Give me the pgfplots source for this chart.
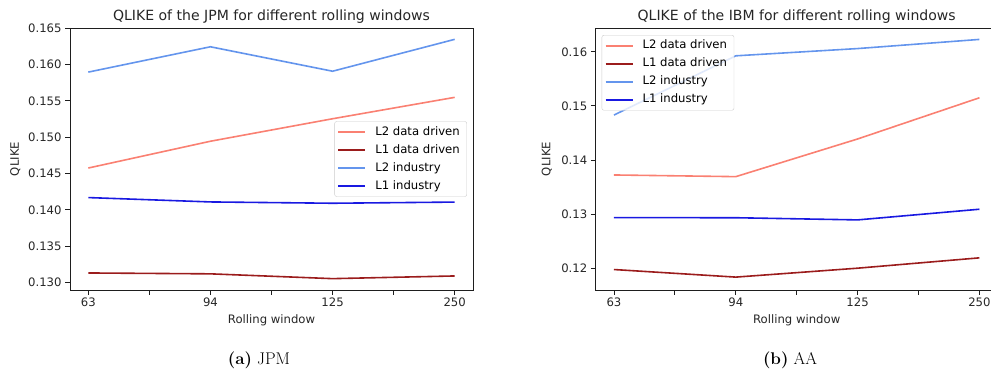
\documentclass[border=0pt]{standalone}
\usepackage{fontspec}
\usepackage{pgfplots}
\pgfplotsset{compat=1.18}
\newfontfamily\plotfont{DejaVu Sans}

\definecolor{ltwodd}{RGB}{250,128,114}
\definecolor{lonedd}{RGB}{155,28,28}
\definecolor{ltwoind}{RGB}{100,149,237}
\definecolor{loneind}{RGB}{25,25,225}
\definecolor{spine}{RGB}{30,30,30}

% QLIKE per rolling window (63, 94, 125, 250 days) at positions 0..3
\pgfplotstableread{
x  l2dd    l1dd    l2ind   l1ind
0  0.14576 0.13134 0.15894 0.14170
1  0.14944 0.13122 0.16242 0.14110
2  0.15253 0.13056 0.15906 0.14092
3  0.15547 0.13093 0.16344 0.14108
}\jpmdata
\pgfplotstableread{
x  l2dd    l1dd    l2ind   l1ind
0  0.13725 0.11978 0.14832 0.12937
1  0.13694 0.11838 0.15926 0.12935
2  0.14390 0.12003 0.16060 0.12895
3  0.15151 0.12194 0.16229 0.13092
}\ibmdata

\pgfplotsset{
  qlike/.style={
    scale only axis,
    height=262bp,
    xmin=-0.15, xmax=3.15,
    xtick={0,1,2,3}, xticklabels={63,94,125,250},
    minor xtick={0.5,1.5,2.5},
    tick align=outside,
    tick pos=left,
    major tick length=4.9bp, minor tick length=4.9bp,
    tick style={spine, line width=0.9bp},
    axis line style={spine, line width=0.9bp},
    font=\fontsize{11.7}{14}\plotfont,
    /pgf/number format/assume math mode=true,
    ticklabel style={font=\fontsize{11.7}{14}\plotfont, text=black!85},
    xticklabel style={anchor=base, yshift=-12bp},
    yticklabel style={anchor=east},
    every axis title shift=0pt,
    title style={font=\fontsize{14.1}{17}\plotfont, text=black!85,
      at={(axis description cs:0.5,1.0279)}, anchor=base},
    xlabel style={font=\fontsize{11.7}{14}\plotfont, text=black!85,
      at={(axis description cs:0.5,-0.126)}, anchor=base},
    ylabel style={font=\fontsize{11.7}{14}\plotfont, text=black!85, anchor=center},
    xlabel={Rolling window},
    ylabel={QLIKE},
    every axis plot/.append style={line width=1.6bp},
    legend cell align=left,
    legend image code/.code={\draw[##1] (0bp,0bp) -- (27bp,0bp);},
    legend style={
      font=\fontsize{11.7}{14}\plotfont,
      draw=black!20, rounded corners=2bp,
      fill=white, fill opacity=0.8, text opacity=1,
      inner xsep=3bp, inner ysep=1.5bp,
      row sep=0pt, column sep=5bp,
      nodes={inner xsep=4bp, inner ysep=3.3bp, text height=8.8bp, text depth=2.6bp},
    },
  }
}

\begin{document}
\begin{tikzpicture}
\useasboundingbox (0,0) rectangle (991bp,371bp);

\begin{axis}[qlike,
  at={(70bp,81bp)}, anchor=south west, width=403bp,
  ymin=0.129, ymax=0.165,
  ytick={0.130,0.135,0.140,0.145,0.150,0.155,0.160,0.165},
  yticklabel style={/pgf/number format/.cd, fixed, fixed zerofill, precision=3},
  ylabel style={at={(axis description cs:-0.1357,0.5)}},
  title={QLIKE of the JPM for different rolling windows},
  legend style={at={(0.985,0.5)}, anchor=east},
]
\addplot[ltwodd]  table[x=x, y=l2dd]  {\jpmdata};
\addplot[lonedd]  table[x=x, y=l1dd]  {\jpmdata};
\addplot[ltwoind] table[x=x, y=l2ind] {\jpmdata};
\addplot[loneind] table[x=x, y=l1ind] {\jpmdata};
\legend{L2 data driven, L1 data driven, L2 industry, L1 industry}
\end{axis}

\begin{axis}[qlike,
  at={(595.7bp,81bp)}, anchor=south west, width=402bp,
  ymin=0.116, ymax=0.1644,
  ytick={0.12,0.13,0.14,0.15,0.16},
  yticklabel style={/pgf/number format/.cd, fixed, fixed zerofill, precision=2},
  ylabel style={at={(axis description cs:-0.1219,0.5)}},
  title={QLIKE of the IBM for different rolling windows},
  legend style={at={(0.015,0.973)}, anchor=north west},
]
\addplot[ltwodd]  table[x=x, y=l2dd]  {\ibmdata};
\addplot[lonedd]  table[x=x, y=l1dd]  {\ibmdata};
\addplot[ltwoind] table[x=x, y=l2ind] {\ibmdata};
\addplot[loneind] table[x=x, y=l1ind] {\ibmdata};
\legend{L2 data driven, L1 data driven, L2 industry, L1 industry}
\end{axis}

\node[anchor=base, font=\fontsize{17}{20}\selectfont] at (259bp,6.7bp) {\textbf{(a)} JPM};
\node[anchor=base, font=\fontsize{17}{20}\selectfont] at (790bp,6.7bp) {\textbf{(b)} AA};
\end{tikzpicture}
\end{document}
